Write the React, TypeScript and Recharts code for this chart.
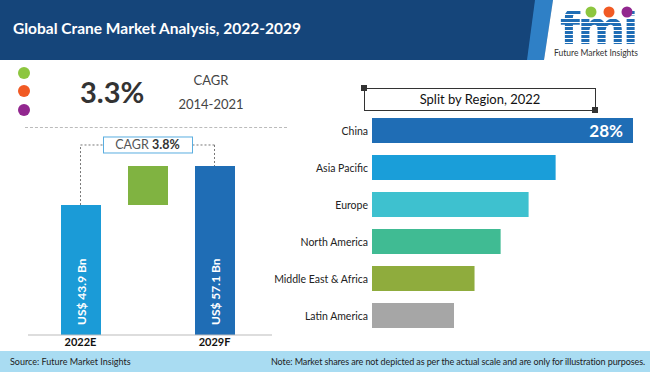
import React from "react";
import {
  BarChart,
  Bar,
  XAxis,
  YAxis,
  Cell,
  LabelList,
  ReferenceLine,
  ReferenceDot,
} from "recharts";

// market size waterfall (US$ Bn)
const stages = ["2022E", "Growth", "2029F"];
const stageLow = [0, 43.9, 0];
const stageHigh = [43.9, 57.1, 57.1];
const stageLabels = ["US$ 43.9 Bn", "", "US$ 57.1 Bn"];
const stageColors = ["#1b9bd7", "#80b341", "#1f6db5"];
const cagrText = "3.8%";

// regional split, 2022 (%)
const regions = [
  "China",
  "Asia Pacific",
  "Europe",
  "North America",
  "Middle East & Africa",
  "Latin America",
];
const regionShare = [28, 19.7, 16.8, 13.8, 11, 8.8];
const regionColors = ["#1f6db5", "#1a9ed9", "#3ec1cf", "#40bb93", "#8fac3d", "#a6a6a6"];

const marketData = stages.map((stage, i) => ({
  stage,
  range: [stageLow[i], stageHigh[i]],
  label: stageLabels[i],
}));

const regionData = regions.map((region, i) => ({ region, share: regionShare[i] }));

const MAX_MARKET = 57.1;
const CONNECTOR_LEVEL = 64.2;
const FONT = "Lato, 'Open Sans', sans-serif";

const renderStageText = (props: any) => {
  const { x, y, width, height, value } = props;
  if (!value) return null;
  const tx = x + width / 2 + 4.5;
  const ty = y + height - 10;
  return (
    <text
      x={tx}
      y={ty}
      transform={`rotate(-90 ${tx} ${ty})`}
      fill="#fff"
      fontSize={12}
      fontWeight={700}
      fontFamily={FONT}
      textAnchor="start"
    >
      {value}
    </text>
  );
};

const CagrBox = (props: any) => {
  const { cx, cy } = props;
  return (
    <g>
      <rect x={cx - 44} y={cy - 8} width={89} height={16} fill="#fff" stroke="#5aaee0" strokeWidth={1} />
      <text x={cx} y={cy + 4.5} textAnchor="middle" fontSize={12.5} fontFamily={FONT} fill="#555">
        CAGR <tspan fontWeight={700} fill="#333">{cagrText}</tspan>
      </text>
    </g>
  );
};

const renderShareText = (props: any) => {
  const { x, y, width, height, value, index } = props;
  if (index !== 0) return null;
  return (
    <text
      x={x + width - 10}
      y={y + height / 2 + 6}
      textAnchor="end"
      fill="#fff"
      fontSize={17}
      fontWeight={700}
      fontFamily={FONT}
    >
      {`${value}%`}
    </text>
  );
};

const RegionTick = (props: any) => {
  const { x, y, payload } = props;
  return (
    <text x={x} y={y + 4} textAnchor="end" fill="#222" fontSize={10.5} fontFamily={FONT}>
      {payload.value}
    </text>
  );
};

const Dot = ({ top, color }: { top: number; color: string }) => (
  <div
    style={{
      position: "absolute",
      left: 18,
      top,
      width: 12,
      height: 12,
      borderRadius: 6,
      background: color,
    }}
  />
);

export default function App() {
  return (
    <div
      style={{
        position: "absolute",
        left: 0,
        top: 0,
        width: 650,
        height: 372,
        background: "#fff",
        overflow: "hidden",
        fontFamily: FONT,
      }}
    >
      {/* header */}
      <svg width={650} height={60} style={{ position: "absolute", left: 0, top: 0 }}>
        <rect x={0} y={0} width={650} height={60} fill="#15457a" />
        <polygon points="535,0 553,0 544,60 527,60" fill="#2f80c6" />
        <polygon points="553,0 650,0 650,60 544,60" fill="#fff" />
      </svg>
      <div
        style={{
          position: "absolute",
          left: 13,
          top: 19,
          color: "#fff",
          fontSize: 15.5,
          fontWeight: 700,
          whiteSpace: "nowrap",
        }}
      >
        Global Crane Market Analysis, 2022-2029
      </div>
      <div
        style={{
          position: "absolute",
          left: 554,
          top: 11,
          width: 88,
          textAlign: "center",
          fontSize: 46,
          fontWeight: 900,
          fontFamily: "'DejaVu Sans', sans-serif",
          letterSpacing: -2.5,
          lineHeight: "34px",
          color: "transparent",
          background: "repeating-linear-gradient(#1f6db5 0 3px, #fff 3px 4px)",
          WebkitBackgroundClip: "text",
          backgroundClip: "text",
        }}
      >
        fmi
      </div>
      <svg width={650} height={60} style={{ position: "absolute", left: 0, top: 0 }}>
        <circle cx={591} cy={12} r={5.5} fill="#8dc63f" />
        <circle cx={609} cy={12} r={5.5} fill="#f15a24" />
        <circle cx={627} cy={12} r={5.5} fill="#92278f" />
      </svg>
      <div
        style={{
          position: "absolute",
          left: 552,
          top: 48,
          width: 88,
          textAlign: "center",
          fontSize: 8.5,
          lineHeight: "10px",
          color: "#333",
          whiteSpace: "nowrap",
        }}
      >
        Future Market Insights
      </div>

      {/* historic CAGR */}
      <Dot top={67} color="#8dc63f" />
      <Dot top={85} color="#f15a24" />
      <Dot top={104} color="#92278f" />
      <div style={{ position: "absolute", left: 80, top: 74, fontSize: 29, fontWeight: 700, color: "#333" }}>
        3.3%
      </div>
      <div style={{ position: "absolute", left: 178, top: 72, width: 66, textAlign: "center", fontSize: 13, color: "#444" }}>
        CAGR
      </div>
      <div style={{ position: "absolute", left: 178, top: 96, width: 66, textAlign: "center", fontSize: 13, color: "#444" }}>
        2014-2021
      </div>
      <div
        style={{
          position: "absolute",
          left: 25,
          top: 127,
          width: 262,
          borderTop: "1px dashed #bbb",
        }}
      />

      {/* market size waterfall */}
      <div style={{ position: "absolute", left: 0, top: 130 }}>
        <BarChart
          width={300}
          height={230}
          data={marketData}
          margin={{ top: 36, right: 28, left: 28, bottom: 5 }}
        >
          <XAxis
            dataKey="stage"
            height={20}
            padding={{ left: 19, right: 24 }}
            axisLine={{ stroke: "#bbb" }}
            tickLine={false}
            tickSize={0}
            tickMargin={3}
            interval={0}
            tickFormatter={(v: string) => (v === "Growth" ? "" : v)}
            tick={{ fill: "#111", fontSize: 11, fontWeight: 700, fontFamily: FONT }}
          />
          <YAxis hide type="number" domain={[0, MAX_MARKET]} />
          <Bar dataKey="range" barSize={40} isAnimationActive={false}>
            {marketData.map((d, i) => (
              <Cell key={d.stage} fill={stageColors[i]} />
            ))}
            <LabelList dataKey="label" content={renderStageText} />
          </Bar>
          <ReferenceLine
            segment={[
              { x: "2022E", y: stageHigh[0] },
              { x: "2022E", y: CONNECTOR_LEVEL },
            ]}
            stroke="#777"
            strokeDasharray="2 2"
            ifOverflow="visible"
          />
          <ReferenceLine
            segment={[
              { x: "2022E", y: CONNECTOR_LEVEL },
              { x: "2029F", y: CONNECTOR_LEVEL },
            ]}
            stroke="#777"
            strokeDasharray="2 2"
            ifOverflow="visible"
          />
          <ReferenceLine
            segment={[
              { x: "2029F", y: CONNECTOR_LEVEL },
              { x: "2029F", y: stageHigh[2] },
            ]}
            stroke="#777"
            strokeDasharray="2 2"
            ifOverflow="visible"
          />
          <ReferenceDot x="Growth" y={CONNECTOR_LEVEL} ifOverflow="visible" shape={<CagrBox />} />
        </BarChart>
      </div>

      {/* split by region */}
      <div
        style={{
          position: "absolute",
          left: 364,
          top: 88,
          width: 230,
          height: 21,
          border: "1px solid #333",
          textAlign: "center",
          fontSize: 13,
          lineHeight: "21px",
          color: "#111",
        }}
      >
        Split by Region, 2022
      </div>
      <div style={{ position: "absolute", left: 361, top: 85, width: 6, height: 6, background: "#333" }} />
      <div style={{ position: "absolute", left: 592, top: 107, width: 6, height: 6, background: "#333" }} />
      <div style={{ position: "absolute", left: 260, top: 100 }}>
        <BarChart
          width={390}
          height={250}
          layout="vertical"
          data={regionData}
          margin={{ top: 12, right: 17, left: 0, bottom: 16 }}
          barCategoryGap={12}
        >
          <XAxis hide type="number" domain={[0, regionShare[0]]} />
          <YAxis
            type="category"
            dataKey="region"
            width={112}
            axisLine={false}
            tickLine={false}
            tickSize={0}
            tickMargin={4}
            interval={0}
            tick={<RegionTick />}
          />
          <Bar dataKey="share" barSize={25} isAnimationActive={false}>
            {regionData.map((d, i) => (
              <Cell key={d.region} fill={regionColors[i]} />
            ))}
            <LabelList dataKey="share" content={renderShareText} />
          </Bar>
        </BarChart>
      </div>

      {/* footer */}
      <div
        style={{
          position: "absolute",
          left: 0,
          top: 351,
          width: 650,
          height: 21,
          background: "#a9dcf2",
          fontSize: 9,
          color: "#222",
          lineHeight: "21px",
          whiteSpace: "nowrap",
        }}
      >
        <span style={{ position: "absolute", left: 10 }}>Source: Future Market Insights</span>
        <span style={{ position: "absolute", right: 5, letterSpacing: -0.1 }}>
          Note: Market shares are not depicted as per the actual scale and are only for illustration purposes.
        </span>
      </div>
    </div>
  );
}
